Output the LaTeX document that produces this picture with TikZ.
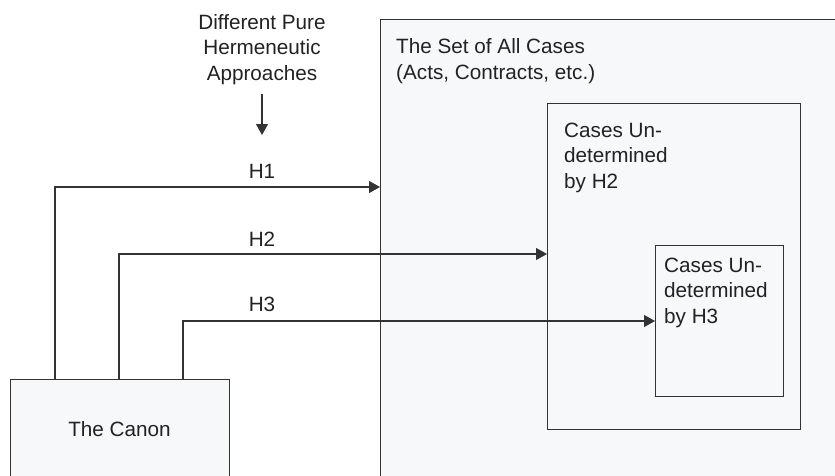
\documentclass[tikz,border=0pt]{standalone}
\usepackage{fontspec}
\setmainfont{Liberation Sans}
\usetikzlibrary{arrows.meta}
\definecolor{ink}{HTML}{333333}
\definecolor{txt}{HTML}{222222}
\definecolor{boxfill}{HTML}{F7F8FA}
\tikzset{
  box/.style={draw=ink, line width=1.1pt, fill=boxfill, inner sep=0pt, anchor=north west},
  lbl/.style={inner sep=0pt, text=txt, font=\fontsize{20.7}{25.3}\selectfont},
  conn/.style={draw=ink, line width=1.1pt, -{Triangle[length=11pt,width=12pt]}},
}
\begin{document}
\begin{tikzpicture}[x=1pt,y=-1pt]
\useasboundingbox (0,0) rectangle (835,475);
\clip (0,0) rectangle (835,475);
\node[box, minimum width=480pt, minimum height=480pt] (all) at (380,19) {};
\node[box, minimum width=219pt, minimum height=120pt] (canon) at (10,379) {};
\node[box, minimum width=253pt, minimum height=326pt] (mid) at (547,103) {};
\node[box, minimum width=128pt, minimum height=151pt] (inner) at (655,245) {};
% texts (anchor = baseline of the last line)
\node[lbl, anchor=base west, align=left] (alltxt) at (396,79) {The Set of All Cases\\(Acts, Contracts, etc.)};
\node[lbl, anchor=base west, align=left] (midtxt) at (564,188) {Cases Un-\\determined\\by H2};
\node[lbl, anchor=base west, align=left] (innertxt) at (664,323) {Cases Un-\\determined\\by H3};
\node[lbl, anchor=base] (canontxt) at (119.5,436) {The Canon};
\node[lbl, anchor=base, align=center] (appr) at (262,80) {Different Pure\\Hermeneutic\\Approaches};
\coordinate (atop) at (262,94);
\coordinate (abot) at (262,135);
\draw[conn] (atop) -- (abot);
% levels
\coordinate (l1) at (0,187);
\coordinate (l2) at (0,254);
\coordinate (l3) at (0,321);
\draw[conn] ([xshift=45pt]canon.north west) |- (l1 -| all.west);
\draw[conn] ([xshift=109pt]canon.north west) |- (l2 -| mid.west);
\draw[conn] ([xshift=173pt]canon.north west) |- (l3 -| inner.west);
\node[lbl, anchor=base] (h1) at (262,178.5) {H1};
\node[lbl, anchor=base] (h2) at (262,246) {H2};
\node[lbl, anchor=base] (h3) at (262,311) {H3};
\end{tikzpicture}
\end{document}
